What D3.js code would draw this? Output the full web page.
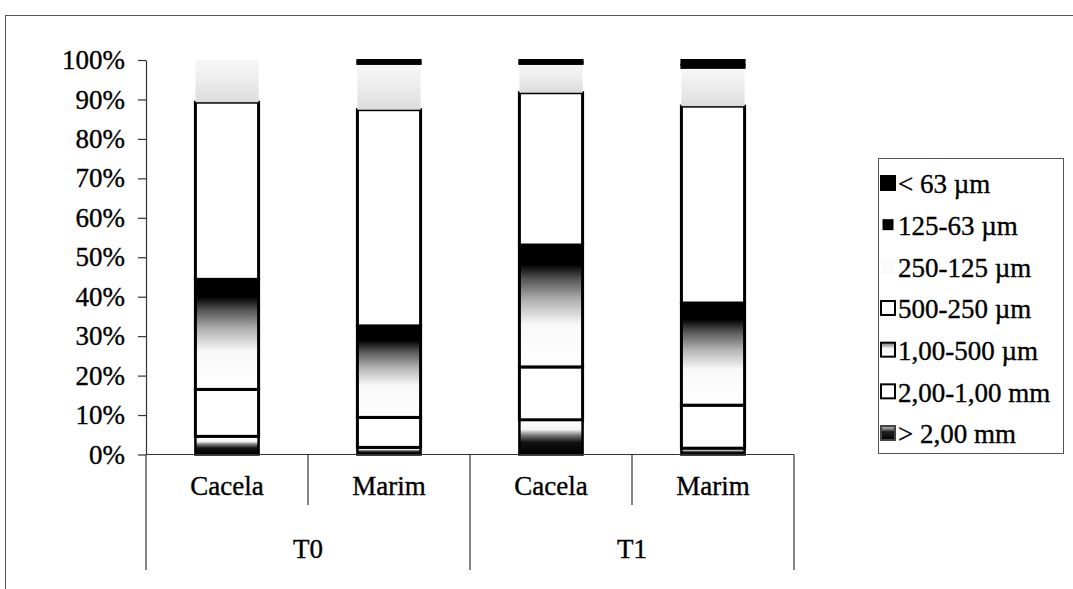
<!DOCTYPE html>
<html><head><meta charset="utf-8">
<script src="https://cdn.jsdelivr.net/npm/d3@7"></script>
<style>
body{margin:0;background:#fff}
svg{display:block}
text{font-family:"Liberation Serif","Times New Roman",serif;fill:#000;stroke:#000;stroke-width:0.35px}
</style>
</head><body>
<svg id="c" width="1073" height="589"></svg>
<script>
// ---- data (percent of each bar) ----
const groups = ["T0", "T1"];
const sites = ["Cacela", "Marim", "Cacela", "Marim"];
const barGroup = ["T0", "T0", "T1", "T1"];
const barIds = ["T0-Cacela", "T0-Marim", "T1-Cacela", "T1-Marim"];
const seriesNames = ["> 2,00 mm", "2,00-1,00 mm", "1,00-500 µm", "500-250 µm", "250-125 µm", "125-63 µm", "< 63 µm"];
const gt2mm       = [4.6, 1.8, 8.8, 1.6];
const mm2to1      = [11.9, 7.6, 13.4, 10.9];
const um1000to500 = [27.9, 23.2, 30.9, 25.9];
const um500to250  = [44.9, 54.8, 38.6, 49.9];
const um250to125  = [10.7, 11.6, 7.3, 9.7];
const um125to63   = [0.0, 0.4, 0.4, 0.8];
const lt63        = [0.0, 0.6, 0.6, 1.2];
const yTickValues = [0, 10, 20, 30, 40, 50, 60, 70, 80, 90, 100];

const seriesValues = [gt2mm, mm2to1, um1000to500, um500to250, um250to125, um125to63, lt63];
const table = barIds.map((id, i) => {
  const row = {id};
  seriesNames.forEach((s, k) => row[s] = seriesValues[k][i]);
  return row;
});

const FS = "27px";
const svg = d3.select("#c");
const defs = svg.append("defs");
function grad(id, stops) {
  const g = defs.append("linearGradient").attr("id", id)
    .attr("x1", 0).attr("y1", 1).attr("x2", 0).attr("y2", 0);
  stops.forEach(([o, c]) => g.append("stop").attr("offset", o).attr("stop-color", c));
}
grad("gBottom", [[0, "#000"], [0.35, "#111"], [0.55, "#777"], [0.72, "#f4f4f4"], [1, "#fff"]]);
grad("gMid", [[0, "#fff"], [0.35, "#f8f8f8"], [0.55, "#b0b0b0"], [0.72, "#555"], [0.84, "#000"], [1, "#000"]]);
grad("gTop", [[0, "#dcdcdc"], [0.5, "#ececec"], [1, "#f7f7f7"]]);
grad("gLegMid", [[0, "#fff"], [0.6, "#f4f4f4"], [0.8, "#aaa"], [1, "#888"]]);
grad("gLegBot", [[0, "#000"], [0.6, "#222"], [0.8, "#888"], [1, "#bbb"]]);

const style = {
  "> 2,00 mm":   {fill: "url(#gBottom)", stroke: "#000", sw: 2.5},
  "2,00-1,00 mm":{fill: "#fff", stroke: "#000", sw: 3},
  "1,00-500 µm": {fill: "url(#gMid)", stroke: "#000", sw: 3},
  "500-250 µm":  {fill: "#fff", stroke: "#000", sw: 3},
  "250-125 µm":  {fill: "url(#gTop)", stroke: "none", sw: 0},
  "125-63 µm":   {fill: "#000", stroke: "#000", sw: 2},
  "< 63 µm":     {fill: "#000", stroke: "#000", sw: 2}
};
const legendStyle = {
  "< 63 µm":     {fill: "#000", stroke: "none", size: 16},
  "125-63 µm":   {fill: "#000", stroke: "none", size: 11},
  "250-125 µm":  {fill: "#fbfbfb", stroke: "none", size: 15},
  "500-250 µm":  {fill: "#fff", stroke: "#000", size: 14},
  "1,00-500 µm": {fill: "url(#gLegMid)", stroke: "#000", size: 14},
  "2,00-1,00 mm":{fill: "#fff", stroke: "#000", size: 14},
  "> 2,00 mm":   {fill: "url(#gLegBot)", stroke: "#444", size: 14}
};

// ---- frame ----
svg.append("line").attr("x1", 5).attr("x2", 1073).attr("y1", 15.5).attr("y2", 15.5).attr("stroke", "#555").attr("stroke-width", 1);
svg.append("line").attr("x1", 5.5).attr("x2", 5.5).attr("y1", 15).attr("y2", 589).attr("stroke", "#555").attr("stroke-width", 1);

// ---- scales ----
const y = d3.scaleLinear().domain([0, 100]).range([454.5, 60]);
const x = d3.scaleBand().domain(barIds).range([146, 794]).padding(0);
const bw = x.bandwidth() * 0.39;

// ---- y axis ----
const yAxis = svg.append("g").attr("transform", "translate(146,0)")
  .call(d3.axisLeft(y).tickValues(yTickValues).tickFormat(d => d + "%").tickSize(8).tickPadding(13).tickSizeOuter(0));
yAxis.select(".domain").attr("stroke", "#333").attr("stroke-width", 1.2);
yAxis.selectAll(".tick line").attr("stroke", "#333").attr("stroke-width", 1.2);
yAxis.selectAll(".tick text").style("font-size", FS).style("font-family", '"Liberation Serif",serif').attr("fill", "#000");

// ---- bars ----
const stack = d3.stack().keys(seriesNames)(table);
const layers = svg.append("g").selectAll("g").data(stack).join("g");
layers.selectAll("rect").data(d => d.map(v => ({v, key: d.key})).filter(o => o.v[1] - o.v[0] > 0))
  .join("rect")
  .attr("x", d => x(d.v.data.id) + (x.bandwidth() - bw) / 2)
  .attr("width", bw)
  .attr("y", d => y(d.v[1]))
  .attr("height", d => Math.max(0, y(d.v[0]) - y(d.v[1])))
  .attr("fill", d => style[d.key].fill)
  .attr("stroke", d => style[d.key].stroke)
  .attr("stroke-width", d => style[d.key].sw);

// ---- category axis ----
const axisG = svg.append("g");
axisG.append("line").attr("x1", 146).attr("x2", 794).attr("y1", y(0)).attr("y2", y(0)).attr("stroke", "#333").attr("stroke-width", 1.2);
const bounds = barIds.map(id => x(id)).concat([x.range()[1]]);
bounds.forEach((bx, i) => {
  const isGroupEdge = i === 0 || i === bounds.length - 1 || barGroup[i] !== barGroup[i - 1];
  axisG.append("line").attr("x1", bx).attr("x2", bx).attr("y1", y(0)).attr("y2", isGroupEdge ? 570 : 505)
    .attr("stroke", "#333").attr("stroke-width", 1.2);
});
axisG.selectAll("text.site").data(barIds).join("text").attr("class", "site")
  .attr("x", d => x(d) + x.bandwidth() / 2).attr("y", 486).attr("dy", "0.35em")
  .attr("text-anchor", "middle").style("font-size", FS)
  .text((d, i) => sites[i]);
axisG.selectAll("text.grp").data(groups).join("text").attr("class", "grp")
  .attr("x", g => {
    const ids = barIds.filter((id, i) => barGroup[i] === g);
    return (x(ids[0]) + x(ids[ids.length - 1]) + x.bandwidth()) / 2;
  })
  .attr("y", 549).attr("dy", "0.35em").attr("text-anchor", "middle").style("font-size", FS)
  .text(d => d);

// ---- legend ----
const leg = svg.append("g");
leg.append("rect").attr("x", 878.5).attr("y", 158.5).attr("width", 185).attr("height", 295)
  .attr("fill", "#fff").attr("stroke", "#555").attr("stroke-width", 1);
const legOrder = seriesNames.slice().reverse();
const legY = d3.scalePoint().domain(legOrder).range([183, 433]);
const items = leg.selectAll("g.item").data(legOrder).join("g").attr("class", "item")
  .attr("transform", d => `translate(0,${legY(d)})`);
items.append("rect")
  .attr("x", d => 888 - legendStyle[d].size / 2).attr("y", d => -legendStyle[d].size / 2)
  .attr("width", d => legendStyle[d].size).attr("height", d => legendStyle[d].size)
  .attr("fill", d => legendStyle[d].fill).attr("stroke", d => legendStyle[d].stroke).attr("stroke-width", 2);
items.append("text").attr("x", 898).attr("y", 1).attr("dy", "0.35em").style("font-size", FS).text(d => d);
</script>
</body></html>
